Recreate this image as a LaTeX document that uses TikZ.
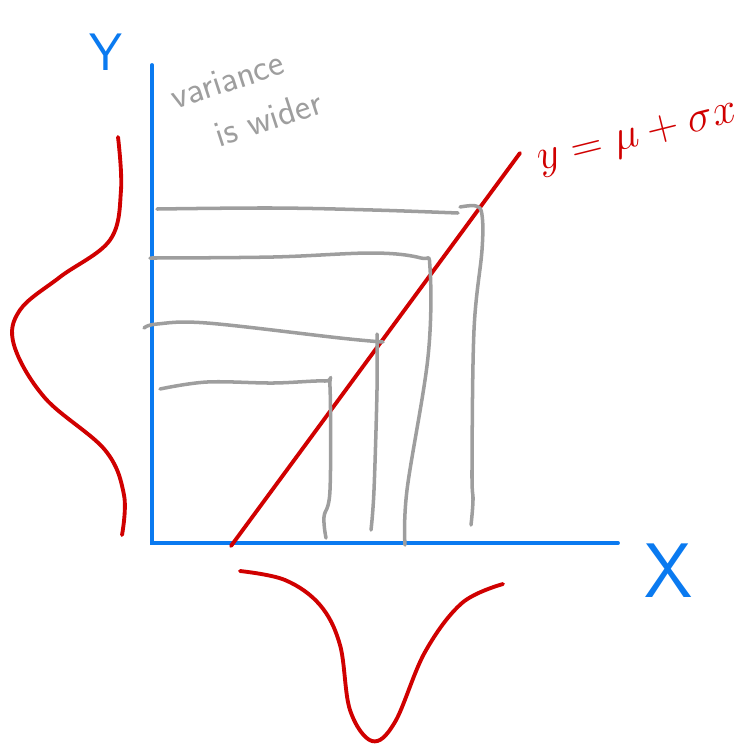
\documentclass[tikz,border=0pt]{standalone}
\usepackage{xcolor}
\usepackage{tikz}
\usetikzlibrary{positioning, calc}
\definecolor{penblue}{RGB}{10,122,240}
\definecolor{penred}{RGB}{208,0,0}
\definecolor{pengrey}{RGB}{158,158,158}

\begin{document}
\begin{tikzpicture}[
    x=0.02cm, y=-0.02cm,
    axis line/.style={draw=penblue, line width=2.2pt, line cap=round},
    red stroke/.style={draw=penred, line width=2.2pt, line cap=round, line join=round},
    grey stroke/.style={draw=pengrey, line width=2.0pt, line cap=round, line join=round},
    axis label/.style={text=penblue, font=\sffamily, inner sep=0pt},
    note text/.style={text=pengrey, rotate=18, inner sep=0pt,
                      font=\fontsize{21}{23}\selectfont\sffamily},
    smooth/.append style={tension=0.6},
  ]
  \useasboundingbox (0,0) rectangle (750,745);

  % ============ AXES ============
  \coordinate (origin) at (152,543);
  \coordinate (ytop) at (152,65);
  \coordinate (xend) at (618,543);
  \draw[axis line] (ytop) -- (origin) -- (xend);

  \node[axis label, font=\fontsize{30}{32}\selectfont\sffamily] (ylab) at (106,52) {Y};
  \node[axis label, font=\fontsize{44}{46}\selectfont\sffamily] (xlab) at (669,571) {X};

  % ============ MAPPING LINE ============
  \coordinate (lstart) at (231,546);
  \coordinate (lend) at (520,153);
  \draw[red stroke] (lstart) -- (lend);
  \node[text=penred, rotate=14, inner sep=0pt,
        font=\fontsize{25}{28}\selectfont] (eq) at (638,138) {$y=\mu+\sigma x$};

  % ============ PROJECTIONS (grey) ============
  % outermost pair
  \draw[grey stroke] plot[smooth] coordinates
    {(157,209) (273,208) (373,210) (458,213)};
  \draw[grey stroke] plot[smooth] coordinates
    {(460,207) (476,206) (482,215) (482,250) (474,330) (472,470) (473,500) (471,525)};
  % second
  \draw[grey stroke] plot[smooth] coordinates
    {(150,258) (273,257) (373,253) (421,258) (430,268) (428,357) (407,490) (405,545)};
  % third
  \draw[grey stroke] plot[smooth] coordinates
    {(144,328) (157,324) (207,323) (340,338) (383,342)};
  \draw[grey stroke] plot[smooth] coordinates
    {(377,334) (377,390) (374,490) (371,530)};
  % innermost
  \draw[grey stroke] plot[smooth] coordinates
    {(160,389) (207,382) (273,383) (325,381) (330,387) (330,490) (324,517) (326,538)};

  \node[note text] (note1) at (227,80) {variance};
  \node[note text] (note2) at (268,118) {is wider};

  % ============ DENSITIES (red) ============
  % along Y
  \draw[red stroke] plot[smooth] coordinates
    {(118,137) (121,190) (110,240) (60,277) (20,310) (14,345)
     (45,398) (105,450) (124,495) (122,535)};
  % along X
  \draw[red stroke] plot[smooth] coordinates
    {(240,571) (285,580) (320,605) (340,645) (350,710) (372,741)
     (395,722) (425,652) (462,603) (503,584)};

\end{tikzpicture}
\end{document}
